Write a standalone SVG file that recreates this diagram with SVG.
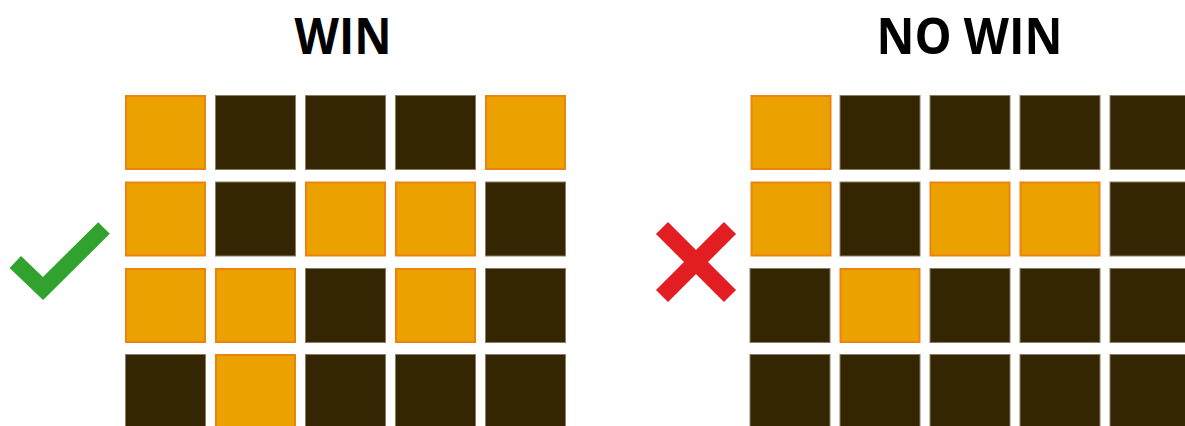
<svg xmlns="http://www.w3.org/2000/svg" width="1185" height="426" viewBox="0 0 1185 426">
<style>
.t{font-family:"Open Sans","Noto Sans",sans-serif;font-weight:700;font-size:50px;fill:#000;text-anchor:middle}
.o{fill:#EBA100;stroke:#EC830F;stroke-width:2}
.d{fill:#352603;stroke:#8C7D62;stroke-width:1}
</style>
<rect width="1185" height="426" fill="#fff"/>
<g id="title-win"><text class="t" x="343" y="53.5" textLength="97" lengthAdjust="spacingAndGlyphs">WIN</text></g>
<g id="title-nowin"><text class="t" x="969.5" y="53.5" textLength="186" lengthAdjust="spacingAndGlyphs">NO WIN</text></g>
<g id="check"><polyline points="15.3,262 43,288.5 104,228" fill="none" stroke="#32A22F" stroke-width="16.5" stroke-linejoin="miter"/></g>
<g id="cross"><path d="M662,228 L730,296 M730,228 L662,296" stroke="#E21E22" stroke-width="17" fill="none"/></g>
<g id="grid-win">
<rect class="o" x="126" y="96" width="79" height="73"/>
<rect class="d" x="215.5" y="95.5" width="80" height="74"/>
<rect class="d" x="305.5" y="95.5" width="80" height="74"/>
<rect class="d" x="395.5" y="95.5" width="80" height="74"/>
<rect class="o" x="486" y="96" width="79" height="73"/>
<rect class="o" x="126" y="182.5" width="79" height="73"/>
<rect class="d" x="215.5" y="182" width="80" height="74"/>
<rect class="o" x="306" y="182.5" width="79" height="73"/>
<rect class="o" x="396" y="182.5" width="79" height="73"/>
<rect class="d" x="485.5" y="182" width="80" height="74"/>
<rect class="o" x="126" y="269" width="79" height="73"/>
<rect class="o" x="216" y="269" width="79" height="73"/>
<rect class="d" x="305.5" y="268.5" width="80" height="74"/>
<rect class="o" x="396" y="269" width="79" height="73"/>
<rect class="d" x="485.5" y="268.5" width="80" height="74"/>
<rect class="d" x="125.5" y="354.5" width="80" height="74"/>
<rect class="o" x="216" y="355" width="79" height="73"/>
<rect class="d" x="305.5" y="354.5" width="80" height="74"/>
<rect class="d" x="395.5" y="354.5" width="80" height="74"/>
<rect class="d" x="485.5" y="354.5" width="80" height="74"/>
</g>
<g id="grid-nowin">
<rect class="o" x="751.5" y="96" width="79" height="73"/>
<rect class="d" x="840" y="95.5" width="80" height="74"/>
<rect class="d" x="930" y="95.5" width="80" height="74"/>
<rect class="d" x="1020" y="95.5" width="80" height="74"/>
<rect class="d" x="1110" y="95.5" width="80" height="74"/>
<rect class="o" x="751.5" y="182.5" width="79" height="73"/>
<rect class="d" x="840" y="182" width="80" height="74"/>
<rect class="o" x="930.5" y="182.5" width="79" height="73"/>
<rect class="o" x="1020.5" y="182.5" width="79" height="73"/>
<rect class="d" x="1110" y="182" width="80" height="74"/>
<rect class="d" x="750" y="268.5" width="80" height="74"/>
<rect class="o" x="840.5" y="269" width="79" height="73"/>
<rect class="d" x="930" y="268.5" width="80" height="74"/>
<rect class="d" x="1020" y="268.5" width="80" height="74"/>
<rect class="d" x="1110" y="268.5" width="80" height="74"/>
<rect class="d" x="750" y="354.5" width="80" height="74"/>
<rect class="d" x="840" y="354.5" width="80" height="74"/>
<rect class="d" x="930" y="354.5" width="80" height="74"/>
<rect class="d" x="1020" y="354.5" width="80" height="74"/>
<rect class="d" x="1110" y="354.5" width="80" height="74"/>
</g>
</svg>
